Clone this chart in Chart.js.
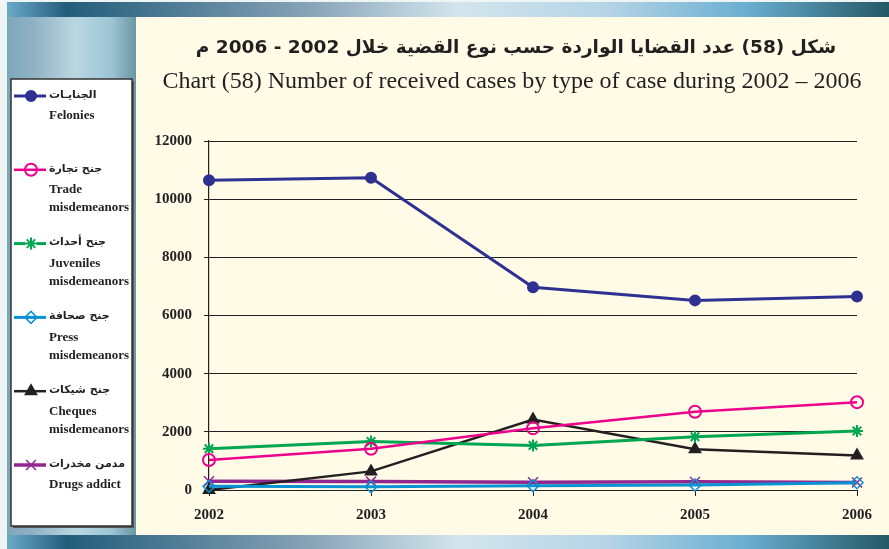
<!DOCTYPE html>
<html lang="ar">
<head>
<meta charset="utf-8">
<title>Chart 58</title>
<script src="https://cdn.jsdelivr.net/npm/chart.js"></script>
<style>
  html, body { margin: 0; padding: 0; background: #eef5f5; }
  #wrap { width: 889px; height: 549px; }
</style>
</head>
<body>
<div id="wrap"><canvas id="casesChart" width="889" height="549"></canvas></div>
<script>
const years = ['2002', '2003', '2004', '2005', '2006'];
const yTicks = [0, 2000, 4000, 6000, 8000, 10000, 12000];

const felonies  = [10650, 10740, 6970, 6520, 6650];
const trade     = [1030, 1420, 2120, 2690, 3020];
const juveniles = [1420, 1670, 1530, 1830, 2030];
const press     = [130, 110, 150, 170, 250];
const cheques   = [0, 640, 2420, 1400, 1190];
const drugs     = [300, 290, 270, 280, 260];

const namesAr = ['الجنايـات', 'جنح تجارة', 'جنح أحداث', 'جنح صحافة', 'جنح شيكات', 'مدمن مخدرات'];
const namesEn = [['Felonies'], ['Trade', 'misdemeanors'], ['Juveniles', 'misdemeanors'],
                 ['Press', 'misdemeanors'], ['Cheques', 'misdemeanors'], ['Drugs addict']];

const titleAr = 'شكل (58) عدد القضايا الواردة حسب نوع القضية خلال 2002 - 2006 م';
const titleEn = 'Chart (58) Number of received cases by type of case during 2002 – 2006';

const INK = '#231f20';
const SERIF = '"Liberation Serif", "Times New Roman", serif';

function series(label, data, color, style) {
  return Object.assign({
    label: label,
    data: data,
    borderColor: color,
    pointBorderColor: color,
    pointBackgroundColor: color,
    borderWidth: 3,
    pointBorderWidth: 2,
    pointRadius: 5,
    tension: 0,
    clip: false
  }, style);
}

const datasets = [
  series(namesEn[0].join(' '), felonies, '#2e3192', { pointStyle: 'circle', pointRadius: 5 }),
  series(namesEn[1].join(' '), trade, '#ec008c', { pointStyle: 'circle', pointRadius: 6, borderWidth: 2.5, pointBackgroundColor: 'rgba(0,0,0,0)' }),
  series(namesEn[2].join(' '), juveniles, '#00a651', { pointStyle: 'star', pointRadius: 6, pointBackgroundColor: '#ffffff' }),
  series(namesEn[3].join(' '), press, '#0a93d3', { pointStyle: 'rectRot', pointRadius: 6, pointBorderWidth: 1.5, pointBackgroundColor: 'rgba(0,0,0,0)' }),
  series(namesEn[4].join(' '), cheques, INK, { pointStyle: 'triangle', pointRadius: 6, borderWidth: 2.5 }),
  series(namesEn[5].join(' '), drugs, '#92278f', { pointStyle: 'crossRot', pointRadius: 7, borderWidth: 3.5, pointBorderWidth: 1.5 })
];

function bandGradient(ctx, x0, x1) {
  const w = x1 - x0;
  const g = ctx.createLinearGradient(x0, 0, x1, 0);
  g.addColorStop(0, '#6aa9c8');
  g.addColorStop(60 / w, '#235d7a');
  g.addColorStop(300 / w, '#86a2b6');
  g.addColorStop(450 / w, '#d3e5ed');
  g.addColorStop(600 / w, '#b5d4e6');
  g.addColorStop(740 / w, '#6aaed0');
  g.addColorStop(1, '#245866');
  return g;
}

// page frame, titles and the boxed legend on the left
const framePlugin = {
  id: 'frame',
  beforeDraw(chart) {
    const ctx = chart.ctx;
    ctx.save();
    ctx.fillStyle = '#eef5f5';
    ctx.fillRect(0, 0, 889, 549);

    ctx.fillStyle = bandGradient(ctx, 7, 889);
    ctx.fillRect(7, 2, 882, 15);
    ctx.fillRect(7, 535, 882, 14);

    const side = ctx.createLinearGradient(7, 0, 136, 0);
    side.addColorStop(0, '#7ea6bb');
    side.addColorStop(0.2, '#90b1c3');
    side.addColorStop(0.52, '#bad7e1');
    side.addColorStop(0.8, '#9ec6d6');
    side.addColorStop(1, '#6c96a4');
    ctx.fillStyle = side;
    ctx.fillRect(7, 17, 129, 518);

    ctx.fillStyle = '#fffbe7';
    ctx.fillRect(136, 17, 753, 518);

    // titles
    ctx.fillStyle = INK;
    ctx.textBaseline = 'middle';
    ctx.textAlign = 'center';
    ctx.direction = 'rtl';
    ctx.font = 'bold 18.5px "DejaVu Sans", sans-serif';
    ctx.fillText(titleAr, 516, 48);
    ctx.direction = 'ltr';
    ctx.font = '24px ' + SERIF;
    ctx.fillText(titleEn, 512, 82);

    // legend box
    ctx.fillStyle = '#555';
    ctx.fillRect(13, 81, 121, 447);
    ctx.fillStyle = '#ffffff';
    ctx.fillRect(11, 79, 121, 447);
    ctx.strokeStyle = '#333';
    ctx.lineWidth = 1.5;
    ctx.strokeRect(11, 79, 121, 447);

    chart.data.datasets.forEach((ds, i) => {
      const y = 96 + i * 73.8;
      ctx.strokeStyle = ds.borderColor;
      ctx.lineWidth = ds.borderWidth;
      ctx.beginPath();
      ctx.moveTo(14, y);
      ctx.lineTo(46, y);
      ctx.stroke();
      ctx.fillStyle = ds.pointBackgroundColor;
      ctx.strokeStyle = ds.pointBorderColor;
      ctx.lineWidth = ds.pointBorderWidth;
      if (ds.pointStyle === 'star') {
        ctx.fillStyle = '#ffffff';
        ctx.fillRect(25, y - 6, 12, 12);
      }
      Chart.helpers.drawPoint(ctx, {
        pointStyle: ds.pointStyle,
        radius: ds.pointRadius,
        rotation: 0,
        borderWidth: ds.pointBorderWidth
      }, 31, y);

      ctx.fillStyle = INK;
      ctx.textAlign = 'left';
      ctx.textBaseline = 'middle';
      ctx.direction = 'rtl';
      ctx.font = 'bold 11px "DejaVu Sans", sans-serif';
      ctx.fillText(namesAr[i], 49, y - 1);
      ctx.direction = 'ltr';
      ctx.font = 'bold 13px ' + SERIF;
      namesEn[i].forEach((t, k) => ctx.fillText(t, 49, y + 20 + k * 18));
    });
    ctx.restore();
  }
};

new Chart(document.getElementById('casesChart'), {
  type: 'line',
  data: { labels: years, datasets: datasets },
  plugins: [framePlugin],
  options: {
    responsive: false,
    animation: false,
    layout: { padding: { left: 140, top: 141, right: 32, bottom: 0 } },
    plugins: { legend: { display: false }, tooltip: { enabled: false } },
    scales: {
      x: {
        offset: false,
        afterFit(scale) { scale.height = 59; },
        grid: { drawOnChartArea: false, color: INK, lineWidth: 1, tickLength: 6 },
        border: { display: true, color: INK, width: 1 },
        ticks: { color: INK, padding: 10, maxRotation: 0, font: { family: SERIF, size: 15, weight: 'bold' } }
      },
      y: {
        min: yTicks[0],
        max: yTicks[yTicks.length - 1],
        afterFit(scale) { scale.width = 69; },
        afterBuildTicks(scale) { scale.ticks = yTicks.map(v => ({ value: v })); },
        grid: { color: INK, lineWidth: 1, tickLength: 5 },
        border: { display: true, color: INK, width: 1.2 },
        ticks: {
          color: INK,
          padding: 12,
          font: { family: SERIF, size: 15, weight: 'bold' },
          callback: v => String(v)
        }
      }
    }
  }
});
</script>
</body>
</html>
